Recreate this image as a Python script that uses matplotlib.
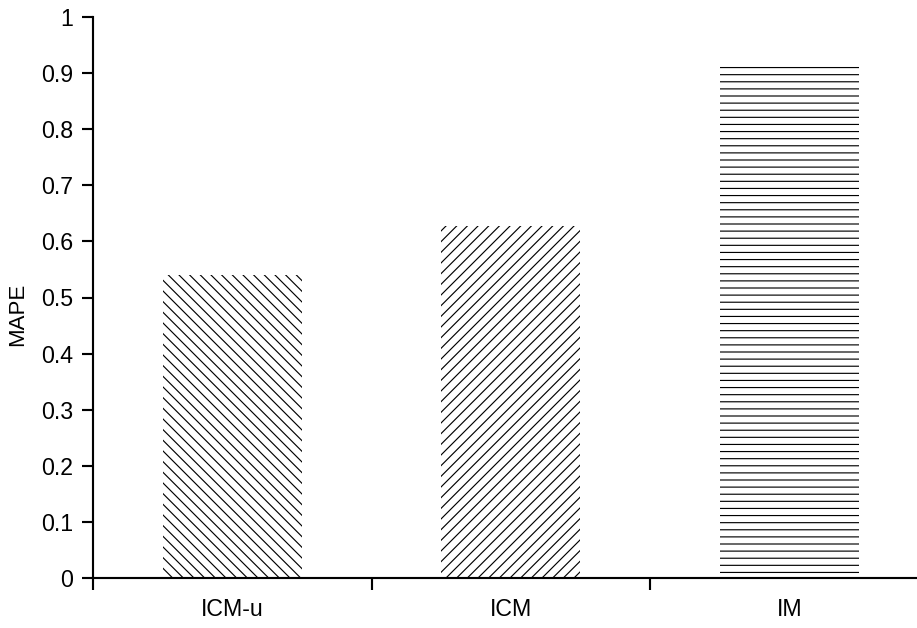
import matplotlib
matplotlib.use("Agg")
import matplotlib.pyplot as plt

plt.rcParams['font.family'] = ['Liberation Sans', 'DejaVu Sans']
plt.rcParams['hatch.linewidth'] = 0.65

models = ['ICM-u', 'ICM', 'IM']
mape = [0.54, 0.627, 0.92]
hatches = ['\\\\\\\\', '////', '---']

DPI = 128
fig = plt.figure(figsize=(917 / DPI, 628 / DPI), dpi=DPI)
# right edge runs past the figure so the last boundary tick is cut off
ax = fig.add_axes([93 / 917, 50 / 628, 835.5 / 917, 561 / 628])

centers = [i + 0.5 for i in range(len(models))]
for x, v, h in zip(centers, mape, hatches):
    ax.bar(x, v, width=0.5, color='white', edgecolor='black', linewidth=0, hatch=h)

ax.set_xlim(0, len(models))
ax.set_ylim(0, 1)
ax.set_yticks([i / 10 for i in range(11)])
ax.set_yticklabels(['0', '0.1', '0.2', '0.3', '0.4', '0.5', '0.6', '0.7', '0.8', '0.9', '1'])

ax.set_xticks(centers)
ax.set_xticklabels(models)
ax.set_xticks(range(len(models) + 1), minor=True)
ax.tick_params(axis='x', which='major', length=0, pad=11, labelsize=13)
ax.tick_params(axis='x', which='minor', length=6.7, width=1.2, direction='out')
ax.tick_params(axis='y', length=6, width=1.2, direction='out', pad=5, labelsize=13)

for side in ['top', 'right']:
    ax.spines[side].set_visible(False)
for side in ['left', 'bottom']:
    ax.spines[side].set_linewidth(1.2)

ax.set_ylabel('MAPE', fontsize=12.5)
ax.yaxis.set_label_coords(-0.078, 0.47)

fig.savefig('out.png', dpi=DPI)
